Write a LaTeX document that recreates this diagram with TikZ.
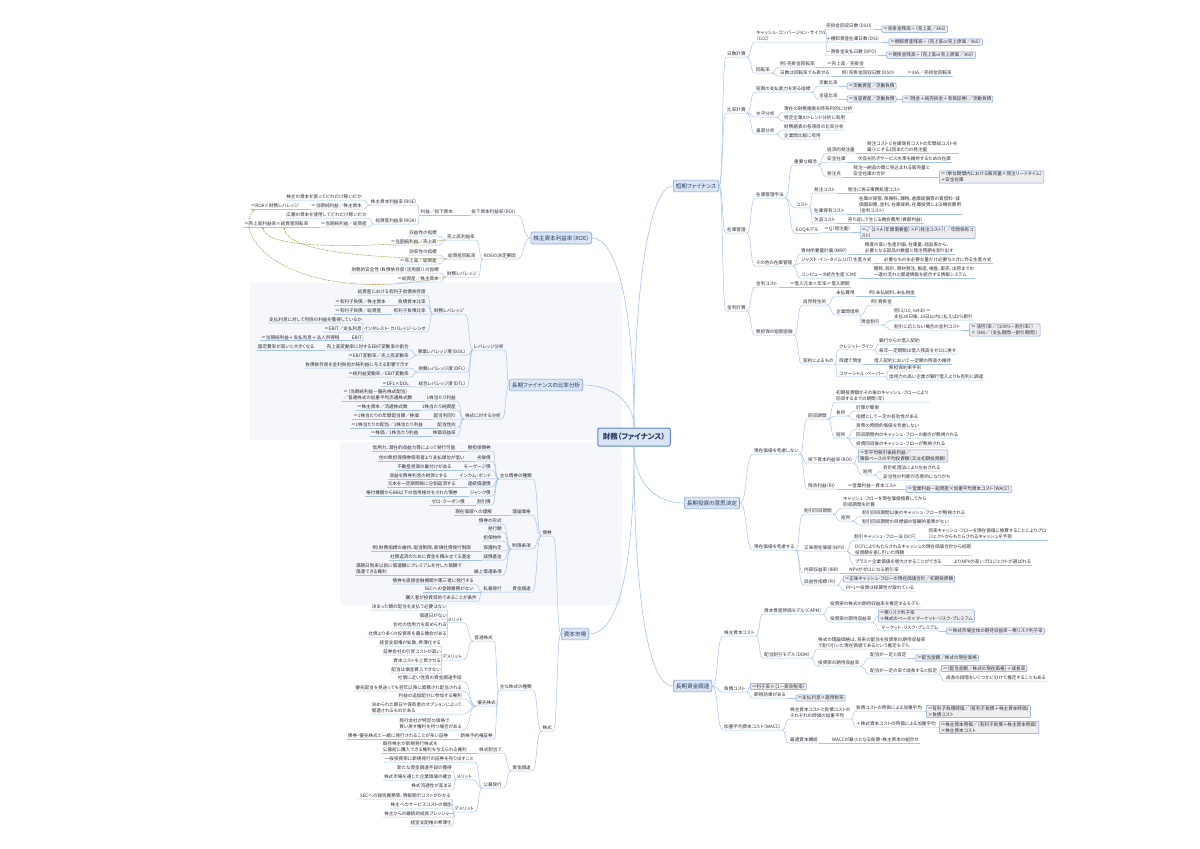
\documentclass[tikz,border=0pt]{standalone}
\usepackage{fontspec}
\setmainfont{Noto Sans CJK JP}[RawFeature=+palt]
\usepackage{tikz}
\usetikzlibrary{arrows.meta, calc}

\definecolor{lnk}{RGB}{165,195,235}
\definecolor{txt}{RGB}{45,45,55}
\definecolor{bxd}{RGB}{120,160,220}
\definecolor{bxf}{RGB}{238,238,241}
\definecolor{tpd}{RGB}{130,165,215}
\definecolor{tpf}{RGB}{218,228,243}
\definecolor{tpt}{RGB}{40,60,100}
\definecolor{rtd}{RGB}{90,135,205}
\definecolor{dsh}{RGB}{170,160,90}
\definecolor{band}{RGB}{245,247,251}

\begin{document}
\begin{tikzpicture}[
        x=1pt, y=-1pt,
        >={Stealth[length=2.5pt, width=2pt]},
        con/.style={draw=lnk, line width=0.5pt,
            to path={let \p1=(\tikztostart), \p2=(\tikztotarget),
                \n1={0.6*(\x2-\x1)}, \n2={-0.6*(\x2-\x1)} in
                .. controls +(\n1,0) and +(\n2,0) .. (\tikztotarget)}},
        mlink/.style={draw=lnk, line width=0.6pt},
        dlink/.style={draw=dsh, line width=0.6pt, dash pattern=on 1.6pt off 1pt, ->},
        lf/.style={font=\fontsize{4.6}{6}\selectfont, text=txt, inner xsep=1pt, inner ysep=0.7pt, align=left},
        rl/.style={lf, anchor=west},
        ll/.style={lf, anchor=east},
        fml/.style={lf, draw=bxd, fill=bxf, rounded corners=1pt, line width=0.5pt, inner xsep=1.5pt, inner ysep=1pt, anchor=west},
        topic/.style={draw=tpd, fill=tpf, rounded corners=1.5pt, line width=0.6pt, text=tpt,
            font=\fontsize{5.6}{7}\selectfont, inner xsep=2.5pt, minimum height=10pt},
        root/.style={draw=rtd, fill=tpf, rounded corners=2pt, line width=1pt, text=tpt,
            font=\fontsize{7.5}{9}\selectfont\bfseries, inner xsep=5pt, minimum height=18pt}
    ]
        \useasboundingbox (0,0) rectangle (1200,849);
        % 背景の帯
        \fill[band] (250,283) rectangle (622,440);
        \fill[band] (340,442) rectangle (622,605);

        %=================== 中心と主トピック ===================
        \node[root] (root) at (634,437) {財務（ファイナンス）};
        \node[topic, anchor=west] (stf) at (673,186) {短期ファイナンス};
        \node[topic, anchor=east] (roe) at (592,238) {株主資本利益率（ROE）};
        \node[topic, anchor=east] (lfr) at (583,385) {長期ファイナンスの比率分析};
        \node[topic, anchor=west] (ltd) at (684,503) {長期投資の意思決定};
        \node[topic, anchor=east] (cpm) at (589,634) {資本市場};
        \node[topic, anchor=west] (ltf) at (673,686) {長期資金調達};
        \draw[mlink] (root.north) .. controls +(0,-130) and +(-25,0) .. (stf.west);
        \draw[mlink] (root.north) .. controls +(0,-120) and +(25,0) .. (roe.east);
        \draw[mlink] (root.north) .. controls +(0,-25) and +(30,0) .. (lfr.east);
        \draw[mlink] (root.south) .. controls +(0,35) and +(-30,0) .. (ltd.west);
        \draw[mlink] (root.south) .. controls +(0,120) and +(30,0) .. (cpm.east);
        \draw[mlink] (root.south) .. controls +(0,150) and +(-25,0) .. (ltf.west);

        %=================== 短期ファイナンス ===================
        \node[rl] (dsc) at (726,54) {日数計算};
        \node[rl] (rcc) at (726,110) {比率計算};
        \node[rl] (inv) at (726,230) {在庫管理};
        \node[rl] (irc) at (726,308) {金利計算};
        \draw[con] (stf.east) to (dsc.south west) -- (dsc.south east);
        \draw[con] (stf.east) to (rcc.south west) -- (rcc.south east);
        \draw[con] (stf.east) to (inv.south west) -- (inv.south east);
        \draw[con] (stf.east) to (irc.south west) -- (irc.south east);
        % 日数計算
        \node[rl] (ccc) at (755,36) {キャッシュ・コンバージョン・サイクル\\（CCC）};
        \node[rl] (trn) at (755,70) {回転率};
        \node[rl] (dso) at (825,26) {売掛金回収日数（DSO）};
        \node[rl] (dsi) at (825,39) {＋棚卸資産在庫日数（DSI）};
        \node[rl] (dpo) at (825,52) {－買掛金支払日数（DPO）};
        \node[fml] (dsof) at ([xshift=8pt]dso.south east) {＝売掛金残高÷（売上高／365）};
        \node[fml] (dsif) at ([xshift=8pt]dsi.south east) {＝棚卸資産残高÷（売上高or売上原価／365）};
        \node[fml] (dpof) at ([xshift=8pt]dpo.south east) {＝買掛金残高÷（売上高or売上原価／365）};
        \node[rl] (art) at (779,64) {例）売掛金回転率};
        \node[rl, anchor=south west] (artf) at ([xshift=10pt]art.south east) {＝売上高／売掛金};
        \node[rl] (dcv) at (779,73) {日数は回転率でも表せる};
        \node[rl, anchor=south west] (dsox) at ([xshift=10pt]dcv.south east) {例）売掛金回収日数（DSO）};
        \node[rl, anchor=south west] (dsoy) at ([xshift=10pt]dsox.south east) {＝365／売掛金回転率};
        \draw[con] (dsc.south east) to (ccc.south west) -- (ccc.south east);
        \draw[con] (dsc.south east) to (trn.south west) -- (trn.south east);
        \draw[con] (ccc.south east) to (dso.south west) -- (dso.south east);
        \draw[con] (ccc.south east) to (dsi.south west) -- (dsi.south east);
        \draw[con] (ccc.south east) to (dpo.south west) -- (dpo.south east);
        \draw[con] (dso.south east) to (dsof.west);
        \draw[con] (dsi.south east) to (dsif.west);
        \draw[con] (dpo.south east) to (dpof.west);
        \draw[con] (trn.south east) to (art.south west) -- (art.south east);
        \draw[con] (art.south east) to (artf.south west) -- (artf.south east);
        \draw[con] (trn.south east) to (dcv.south west) -- (dcv.south east);
        \draw[con] (dcv.south east) to (dsox.south west) -- (dsox.south east);
        \draw[con] (dsox.south east) to (dsoy.south west) -- (dsoy.south east);
        % 比率計算
        \node[rl] (spc) at (755,89) {短期の支払能力を測る指標};
        \node[rl] (hor) at (755,114) {水平分析};
        \node[rl] (ver) at (755,131) {垂直分析};
        \node[rl] (crr) at (818,83) {流動比率};
        \node[rl] (qkr) at (818,96) {当座比率};
        \node[fml] (crrf) at ([xshift=8pt]crr.south east) {＝流動資産／流動負債};
        \node[fml] (qkrf) at ([xshift=8pt]qkr.south east) {＝当座資産／流動負債};
        \node[fml] (qkrg) at ([xshift=6pt]qkrf.east) {＝（現金＋純売掛金＋有価証券）／流動負債};
        \node[rl] (hor1) at (783,109) {現在の財務諸表を時系列的に分析};
        \node[rl] (hor2) at (783,118) {特定企業のトレンド分析に有用};
        \node[rl] (ver1) at (783,127) {財務諸表の各項目の比率分析};
        \node[rl] (ver2) at (783,136) {企業間比較に有用};
        \draw[con] (rcc.south east) to (spc.south west) -- (spc.south east);
        \draw[con] (rcc.south east) to (hor.south west) -- (hor.south east);
        \draw[con] (rcc.south east) to (ver.south west) -- (ver.south east);
        \draw[con] (spc.south east) to (crr.south west) -- (crr.south east);
        \draw[con] (spc.south east) to (qkr.south west) -- (qkr.south east);
        \draw[con] (crr.south east) to (crrf.west);
        \draw[con] (qkr.south east) to (qkrf.west);
        \draw[con] (qkrf.east) to (qkrg.west);
        \draw[con] (hor.south east) to (hor1.south west) -- (hor1.south east);
        \draw[con] (hor.south east) to (hor2.south west) -- (hor2.south east);
        \draw[con] (ver.south east) to (ver1.south west) -- (ver1.south east);
        \draw[con] (ver.south east) to (ver2.south west) -- (ver2.south east);
        % 在庫管理
        \node[rl] (imt) at (755,195) {在庫管理手法};
        \node[rl] (oim) at (755,263) {その他の在庫管理};
        \node[rl] (kcp) at (793,162) {重要な概念};
        \node[rl] (cst) at (795,205) {コスト};
        \node[rl] (eoq) at (795,230) {EOQモデル};
        \node[rl] (eco) at (826,150) {経済的発注量};
        \node[rl] (ssk) at (826,159) {安全在庫};
        \node[rl] (rop) at (826,174) {発注点};
        \node[rl, anchor=south west] (ecot) at ([xshift=10pt]eco.south east) {発注コストと在庫保有コストの年間総コストを\\最小にする1回あたりの発注量};
        \node[rl, anchor=south west] (sskt) at ([xshift=10pt]ssk.south east) {欠品を防ぎサービス水準を維持するための在庫};
        \node[rl, anchor=south west] (ropt) at ([xshift=10pt]rop.south east) {発注～納品の間に見込まれる販売量と\\安全在庫の合計};
        \node[fml] (ropf) at ([xshift=8pt]ropt.south east) {＝（単位期間内における販売量×発注リードタイム）\\＋安全在庫};
        \node[rl] (oc) at (813,190) {発注コスト};
        \node[rl] (hc) at (813,211) {在庫保有コスト};
        \node[rl] (soc) at (813,220) {欠品コスト};
        \node[rl, anchor=south west] (oct) at ([xshift=10pt]oc.south east) {発注に係る事務処理コスト};
        \node[rl, anchor=south west] (hct) at ([xshift=12pt]hc.south east) {在庫の保管、保険料、課税、倉庫設備等の賃借料・減\\価償却費、金利、在庫減耗、在庫投資による機会費用\\（金利コスト）};
        \node[rl, anchor=south west] (soct) at ([xshift=10pt]soc.south east) {売り逃しで生じる機会費用（貢献利益）};
        \node[rl] (eoqq) at (823,229) {＝Q（発注量）};
        \node[fml] (eoqf) at ([xshift=8pt]eoqq.south east) {＝√｛2×A（年間需要量）×P（発注コスト）｝／年間保有コ\\スト｝};
        \node[rl] (mrp) at (800,251) {資材所要量計画（MRP）};
        \node[rl] (jit) at (800,260) {ジャスト・イン・タイム（JIT）生産方式};
        \node[rl] (cim) at (800,275) {コンピュータ統合生産（CIM）};
        \node[rl, anchor=south west] (mrpt) at ([xshift=15pt]mrp.south east) {精度の高い生産計画、在庫量、部品表から、\\必要となる部品の数量と発注時期を割り出す};
        \node[rl, anchor=south west] (jitt) at ([xshift=10pt]jit.south east) {必要なものを必要な量だけ必要なときに作る生産方式};
        \node[rl, anchor=south west] (cimt) at ([xshift=14pt]cim.south east) {開発、設計、資材発注、製造、検査、販売、出荷までの\\一連の流れと関連情報を統合する情報システム};
        \draw[con] (inv.south east) to (imt.south west) -- (imt.south east);
        \draw[con] (inv.south east) to (oim.south west) -- (oim.south east);
        \draw[con] (imt.south east) to (kcp.south west) -- (kcp.south east);
        \draw[con] (imt.south east) to (cst.south west) -- (cst.south east);
        \draw[con] (imt.south east) to (eoq.south west) -- (eoq.south east);
        \draw[con] (kcp.south east) to (eco.south west) -- (eco.south east);
        \draw[con] (kcp.south east) to (ssk.south west) -- (ssk.south east);
        \draw[con] (kcp.south east) to (rop.south west) -- (rop.south east);
        \draw[con] (eco.south east) to (ecot.south west) -- (ecot.south east);
        \draw[con] (ssk.south east) to (sskt.south west) -- (sskt.south east);
        \draw[con] (rop.south east) to (ropt.south west) -- (ropt.south east);
        \draw[con] (ropt.south east) to (ropf.west);
        \draw[con] (cst.south east) to (oc.south west) -- (oc.south east);
        \draw[con] (cst.south east) to (hc.south west) -- (hc.south east);
        \draw[con] (cst.south east) to (soc.south west) -- (soc.south east);
        \draw[con] (oc.south east) to (oct.south west) -- (oct.south east);
        \draw[con] (hc.south east) to (hct.south west) -- (hct.south east);
        \draw[con] (soc.south east) to (soct.south west) -- (soct.south east);
        \draw[con] (eoq.south east) to (eoqq.south west) -- (eoqq.south east);
        \draw[con] (eoqq.south east) to (eoqf.west);
        \draw[con] (oim.south east) to (mrp.south west) -- (mrp.south east);
        \draw[con] (oim.south east) to (jit.south west) -- (jit.south east);
        \draw[con] (oim.south east) to (cim.south west) -- (cim.south east);
        \draw[con] (mrp.south east) to (mrpt.south west) -- (mrpt.south east);
        \draw[con] (jit.south east) to (jitt.south west) -- (jitt.south east);
        \draw[con] (cim.south east) to (cimt.south west) -- (cimt.south east);
        % 金利計算
        \node[rl] (icst) at (755,284) {金利コスト};
        \node[rl, anchor=south west] (icstt) at ([xshift=10pt]icst.south east) {＝借入元本×年率×借入期間};
        \node[rl] (usf) at (755,332) {無担保の短期金融};
        \node[rl] (spn) at (802,302) {自然発生的};
        \node[rl] (ctr) at (802,361) {契約によるもの};
        \node[rl] (acr) at (835,293) {未払費用};
        \node[rl, anchor=south west] (acrt) at ([xshift=12pt]acr.south east) {例）未払給料、未払税金};
        \node[rl] (tcr) at (835,312) {企業間信用};
        \node[rl] (tcr1) at (870,302) {例）買掛金};
        \node[rl] (tcr2) at (860,322) {現金割引};
        \node[rl] (cdt) at (893,314) {例）2/10, net30 ＝\\支払30日後、10日以内に払えば2\%割引};
        \node[rl] (cdc) at (893,327) {割引に応じない場合の金利コスト};
        \node[fml] (cdcf) at ([xshift=8pt]cdc.south east) {＝｛割引率／（100\%－割引率）｝\\×｛360／（支払期間－割引期間）｝};
        \node[rl] (crl) at (838,347) {クレジット・ライン};
        \node[rl] (cmp) at (838,361) {両建て預金};
        \node[rl] (cpp) at (838,374) {コマーシャル・ペーパー};
        \node[rl] (crl1) at (878,341) {銀行からの借入契約};
        \node[rl] (crl2) at (878,351) {毎年一定期間は借入残高をゼロに戻す};
        \node[rl, anchor=south west] (cmpt) at ([xshift=10pt]cmp.south east) {借入契約において一定額の残高の維持};
        \node[rl] (cpp1) at (888,368) {無担保約束手形};
        \node[rl] (cpp2) at (888,377) {信用力の高い企業が銀行借入よりも有利に調達};
        \draw[con] (irc.south east) to (icst.south west) -- (icst.south east);
        \draw[con] (icst.south east) to (icstt.south west) -- (icstt.south east);
        \draw[con] (irc.south east) to (usf.south west) -- (usf.south east);
        \draw[con] (usf.south east) to (spn.south west) -- (spn.south east);
        \draw[con] (usf.south east) to (ctr.south west) -- (ctr.south east);
        \draw[con] (spn.south east) to (acr.south west) -- (acr.south east);
        \draw[con] (acr.south east) to (acrt.south west) -- (acrt.south east);
        \draw[con] (spn.south east) to (tcr.south west) -- (tcr.south east);
        \draw[con] (tcr.south east) to (tcr1.south west) -- (tcr1.south east);
        \draw[con] (tcr.south east) to (tcr2.south west) -- (tcr2.south east);
        \draw[con] (tcr2.south east) to (cdt.south west) -- (cdt.south east);
        \draw[con] (tcr2.south east) to (cdc.south west) -- (cdc.south east);
        \draw[con] (cdc.south east) to (cdcf.west);
        \draw[con] (ctr.south east) to (crl.south west) -- (crl.south east);
        \draw[con] (ctr.south east) to (cmp.south west) -- (cmp.south east);
        \draw[con] (ctr.south east) to (cpp.south west) -- (cpp.south east);
        \draw[con] (crl.south east) to (crl1.south west) -- (crl1.south east);
        \draw[con] (crl.south east) to (crl2.south west) -- (crl2.south east);
        \draw[con] (cmp.south east) to (cmpt.south west) -- (cmpt.south east);
        \draw[con] (cpp.south east) to (cpp1.south west) -- (cpp1.south east);
        \draw[con] (cpp.south east) to (cpp2.south west) -- (cpp2.south east);

        %=================== 長期投資の意思決定 ===================
        \node[rl] (npz) at (753,451) {現在価値を考慮しない};
        \node[rl] (pvc) at (753,547) {現在価値を考慮する};
        \draw[con] (ltd.east) to (npz.south west) -- (npz.south east);
        \draw[con] (ltd.east) to (pvc.south west) -- (pvc.south east);
        % 考慮しない
        \node[rl] (pbp) at (807,416) {回収期間};
        \node[rl] (roi) at (807,460) {投下資本利益率（ROI）};
        \node[rl] (rsi) at (807,486) {残余利益（RI）};
        \node[rl] (pbpt) at (835,396) {初期投資額がその後のキャッシュ・フローにより\\回収するまでの期間（年）};
        \node[rl] (pbpa) at (835,413) {長所};
        \node[rl] (pbpd) at (835,435) {短所};
        \node[rl] (pa1) at (855,408) {計算が簡単};
        \node[rl] (pa2) at (855,417) {指標として一定の有効性がある};
        \node[rl] (pd1) at (855,426) {貨幣の時間的価値を考慮しない};
        \node[rl] (pd2) at (855,435) {回収期間内のキャッシュ・フローの動きが無視される};
        \node[rl] (pd3) at (855,444) {投資回収後のキャッシュ・フローが無視される};
        \node[fml] (roif) at (858,456) {＝年平均税引後純利益／\\簿価ベースの平均投資額（又は初期投資額）};
        \node[rl] (roid) at (862,472) {短所};
        \node[rl] (rd1) at (882,468) {会計処理法により左右される};
        \node[rl] (rd2) at (882,477) {妥当性の判断が恣意的になりがち};
        \node[rl, anchor=south west] (rsit) at ([xshift=10pt]rsi.south east) {＝営業利益－資本コスト};
        \node[fml] (rsif) at ([xshift=8pt]rsit.south east) {＝営業利益－総資産×加重平均資本コスト（WACC）};
        \draw[con] (npz.south east) to (pbp.south west) -- (pbp.south east);
        \draw[con] (npz.south east) to (roi.south west) -- (roi.south east);
        \draw[con] (npz.south east) to (rsi.south west) -- (rsi.south east);
        \draw[con] (pbp.south east) to (pbpt.south west) -- (pbpt.south east);
        \draw[con] (pbp.south east) to (pbpa.south west) -- (pbpa.south east);
        \draw[con] (pbp.south east) to (pbpd.south west) -- (pbpd.south east);
        \draw[con] (pbpa.south east) to (pa1.south west) -- (pa1.south east);
        \draw[con] (pbpa.south east) to (pa2.south west) -- (pa2.south east);
        \draw[con] (pbpd.south east) to (pd1.south west) -- (pd1.south east);
        \draw[con] (pbpd.south east) to (pd2.south west) -- (pd2.south east);
        \draw[con] (pbpd.south east) to (pd3.south west) -- (pd3.south east);
        \draw[con] (roi.south east) to (roif.west);
        \draw[con] (roi.south east) to (roid.south west) -- (roid.south east);
        \draw[con] (roid.south east) to (rd1.south west) -- (rd1.south east);
        \draw[con] (roid.south east) to (rd2.south west) -- (rd2.south east);
        \draw[con] (rsi.south east) to (rsit.south west) -- (rsit.south east);
        \draw[con] (rsit.south east) to (rsif.west);
        % 考慮する
        \node[rl] (dpb) at (803,511) {割引回収期間};
        \node[rl] (npv) at (803,548) {正味現在価値（NPV）};
        \node[rl] (irr) at (803,570) {内部収益率（IRR）};
        \node[rl] (pin) at (803,582) {収益性指標（PI）};
        \node[rl] (dpbt) at (842,502) {キャッシュ・フローを現在価値換算してから\\回収期間を計算};
        \node[rl] (dpbd) at (840,518) {短所};
        \node[rl] (dd1) at (861,513) {割引回収期間以後のキャッシュ・フローが無視される};
        \node[rl] (dd2) at (861,522) {割引回収期間の目標値の客観的基準がない};
        \node[rl] (dcf) at (853,537) {割引キャッシュ・フロー法（DCF）};
        \node[rl, anchor=south west] (dcft) at ([xshift=10pt]dcf.south east) {将来キャッシュ・フローを現在価値に換算することによりプロ\\ジェクトからもたらされるキャッシュを予測};
        \node[rl] (npvt) at (854,549.5) {DCFによりもたらされるキャッシュの現在価値合計から初期\\投資額を差し引いた残額};
        \node[rl] (npvp) at (854,562) {プラス＝企業価値を増大させることができる};
        \node[rl, anchor=south west] (npvq) at ([xshift=10pt]npvp.south east) {よりNPVの高いプロジェクトが選ばれる};
        \node[rl, anchor=south west] (irrt) at ([xshift=8pt]irr.south east) {NPVがゼロになる割引率};
        \node[fml] (pinf) at (843,579) {＝正味キャッシュ・フローの現在価値合計／初期投資額};
        \node[rl] (pint) at (845,588) {PI>1＝投資は採算性が取れている};
        \draw[con] (pvc.south east) to (dpb.south west) -- (dpb.south east);
        \draw[con] (pvc.south east) to (npv.south west) -- (npv.south east);
        \draw[con] (pvc.south east) to (irr.south west) -- (irr.south east);
        \draw[con] (pvc.south east) to (pin.south west) -- (pin.south east);
        \draw[con] (dpb.south east) to (dpbt.south west) -- (dpbt.south east);
        \draw[con] (dpb.south east) to (dpbd.south west) -- (dpbd.south east);
        \draw[con] (dpbd.south east) to (dd1.south west) -- (dd1.south east);
        \draw[con] (dpbd.south east) to (dd2.south west) -- (dd2.south east);
        \draw[con] (npv.south east) to (dcf.south west) -- (dcf.south east);
        \draw[con] (dcf.south east) to (dcft.south west) -- (dcft.south east);
        \draw[con] (npv.south east) to (npvt.south west) -- (npvt.south east);
        \draw[con] (npv.south east) to (npvp.south west) -- (npvp.south east);
        \draw[con] (npvp.south east) to (npvq.south west) -- (npvq.south east);
        \draw[con] (irr.south east) to (irrt.south west) -- (irrt.south east);
        \draw[con] (pin.south east) to (pinf.west);
        \draw[con] (pin.south east) to (pint.south west) -- (pint.south east);

        %=================== 長期資金調達 ===================
        \node[rl] (sec) at (723,633) {株主資本コスト};
        \node[rl] (dbc) at (723,689) {負債コスト};
        \node[rl] (wac) at (723,727) {加重平均資本コスト（WACC）};
        \draw[con] (ltf.east) to (sec.south west) -- (sec.south east);
        \draw[con] (ltf.east) to (dbc.south west) -- (dbc.south east);
        \draw[con] (ltf.east) to (wac.south west) -- (wac.south east);
        % 株主資本コスト
        \node[rl] (capm) at (763,611) {資本資産評価モデル（CAPM）};
        \node[rl] (ddm) at (763,655) {配当割引モデル（DDM）};
        \node[rl] (cap1) at (829,604) {投資家の株式の期待収益率を推定するモデル};
        \node[rl] (cap2) at (829,619) {投資家の期待収益率};
        \node[fml] (capf) at (878,616) {＝無リスク利子率\\＋株式のベータ×マーケット・リスク・プレミアム};
        \node[rl] (mrk) at (880,628) {マーケット・リスク・プレミアム};
        \node[fml] (mrkf) at ([xshift=7pt]mrk.south east) {＝株式市場全体の期待収益率－無リスク利子率};
        \node[rl] (ddm1) at (817,643) {株式の理論価格は、将来の配当を投資家の期待収益率\\で割り引いた現在価値であるという推定モデル};
        \node[rl] (ddm2) at (817,663) {投資家の期待収益率};
        \node[rl] (dg0) at (869,655) {配当が一定と仮定};
        \node[fml] (dg0f) at ([xshift=8pt]dg0.south east) {＝配当金額／株式の現在価格};
        \node[rl] (dg1) at (869,671) {配当が一定の率で成長すると仮定};
        \node[fml] (dg1f) at (941,668.5) {＝（配当金額／株式の現在価格）＋成長率};
        \node[rl] (dg1t) at (945,678) {成長の段階をいくつかに分けて推定することもある};
        \draw[con] (sec.south east) to (capm.south west) -- (capm.south east);
        \draw[con] (sec.south east) to (ddm.south west) -- (ddm.south east);
        \draw[con] (capm.south east) to (cap1.south west) -- (cap1.south east);
        \draw[con] (capm.south east) to (cap2.south west) -- (cap2.south east);
        \draw[con] (cap2.south east) to (capf.west);
        \draw[con] (cap2.south east) to (mrk.south west) -- (mrk.south east);
        \draw[con] (mrk.south east) to (mrkf.west);
        \draw[con] (ddm.south east) to (ddm1.south west) -- (ddm1.south east);
        \draw[con] (ddm.south east) to (ddm2.south west) -- (ddm2.south east);
        \draw[con] (ddm2.south east) to (dg0.south west) -- (dg0.south east);
        \draw[con] (dg0.south east) to (dg0f.west);
        \draw[con] (ddm2.south east) to (dg1.south west) -- (dg1.south east);
        \draw[con] (dg1.south east) to (dg1f.west);
        \draw[con] (dg1.south east) to (dg1t.south west) -- (dg1t.south east);
        % 負債コスト
        \node[fml] (dbcf) at (750,686.5) {＝利子率×（1－実効税率）};
        \node[rl] (dbct) at (753,695) {節税効果がある};
        \node[fml] (dbcg) at ([xshift=9pt]dbct.south east) {＝支払利息×適用税率};
        \draw[con] (dbc.south east) to (dbcf.west);
        \draw[con] (dbc.south east) to (dbct.south west) -- (dbct.south east);
        \draw[con] (dbct.south east) to (dbcg.west);
        % WACC
        \node[rl] (wac1) at (789,713) {株主資本コストと負債コストの\\それぞれの時価の加重平均};
        \node[rl] (wac2) at (789,740) {最適資本構成};
        \node[rl] (wd) at (855,708) {負債コストの時価による加重平均};
        \node[fml] (wdf) at (926,711.5) {＝有利子負債時価／（有利子負債＋株主資本時価）\\×負債コスト};
        \node[rl] (we) at (855,724) {＋株式資本コストの時価による加重平均};
        \node[fml] (wef) at (939,727.5) {＝株主資本時価／（有利子負債＋株主資本時価）\\×株主資本コスト};
        \node[rl, anchor=south west] (wac2t) at ([xshift=12pt]wac2.south east) {WACCが最小となる負債・株主資本の組合せ};
        \draw[con] (wac.south east) to (wac1.south west) -- (wac1.south east);
        \draw[con] (wac.south east) to (wac2.south west) -- (wac2.south east);
        \draw[con] (wac1.south east) to (wd.south west) -- (wd.south east);
        \draw[con] (wd.south east) to (wdf.west);
        \draw[con] (wac1.south east) to (we.south west) -- (we.south east);
        \draw[con] (we.south east) to (wef.west);
        \draw[con] (wac2.south east) to (wac2t.south west) -- (wac2t.south east);

        %=================== 株主資本利益率（ROE） ===================
        \node[ll] (roiL) at (517,212) {投下資本利益率（ROI）};
        \node[ll] (det) at (517,256) {ROEの決定要因};
        \node[ll, anchor=south east] (pic) at ([xshift=-16pt]roiL.south west) {利益／投下資本};
        \node[ll] (roes) at (418,202) {株主資本利益率（ROE）};
        \node[ll] (roas) at (418,221) {総資産利益率（ROA）};
        \node[ll] (roe1) at (363,197) {株主の資本を使ってどれだけ稼いだか};
        \node[ll] (roe2) at (363,206) {＝当期純利益／株主資本};
        \node[ll, anchor=south east] (roe3) at ([xshift=-10pt]roe2.south west) {＝ROA×財務レバレッジ};
        \node[ll] (roa1) at (368,215) {広義の資本を使用してどれだけ稼いだか};
        \node[ll] (roa2) at (368,224) {＝当期純利益／総資産};
        \node[ll, anchor=south east] (roa3) at ([xshift=-10pt]roa2.south west) {＝売上高利益率×総資産回転率};
        \node[ll] (prf) at (476,237) {売上高利益率};
        \node[ll] (tat) at (477,256) {総資産回転率};
        \node[ll] (fnl) at (478,274) {財務レバレッジ};
        \node[ll] (prf1) at (438,233) {収益性の指標};
        \node[ll] (prf2) at (438,242) {＝当期純利益／売上高};
        \node[ll] (tat1) at (438,252) {効率性の指標};
        \node[ll] (tat2) at (438,261) {＝売上高／総資産};
        \node[ll] (fnl1) at (440,270) {財務的安全性（負債依存度（活用度））の指標};
        \node[ll] (fnl2) at (440,279) {＝総資産／株主資本};
        \draw[con] (roe.west) to (roiL.south east) -- (roiL.south west);
        \draw[con] (roe.west) to (det.south east) -- (det.south west);
        \draw[con] (roiL.south west) to (pic.south east) -- (pic.south west);
        \draw[con] (pic.south west) to (roes.south east) -- (roes.south west);
        \draw[con] (pic.south west) to (roas.south east) -- (roas.south west);
        \draw[con] (roes.south west) to (roe1.south east) -- (roe1.south west);
        \draw[con] (roes.south west) to (roe2.south east) -- (roe2.south west);
        \draw[con] (roe2.south west) to (roe3.south east) -- (roe3.south west);
        \draw[con] (roas.south west) to (roa1.south east) -- (roa1.south west);
        \draw[con] (roas.south west) to (roa2.south east) -- (roa2.south west);
        \draw[con] (roa2.south west) to (roa3.south east) -- (roa3.south west);
        \draw[con] (det.south west) to (prf.south east) -- (prf.south west);
        \draw[con] (det.south west) to (tat.south east) -- (tat.south west);
        \draw[con] (det.south west) to (fnl.south east) -- (fnl.south west);
        \draw[con] (prf.south west) to (prf1.south east) -- (prf1.south west);
        \draw[con] (prf.south west) to (prf2.south east) -- (prf2.south west);
        \draw[con] (tat.south west) to (tat1.south east) -- (tat1.south west);
        \draw[con] (tat.south west) to (tat2.south east) -- (tat2.south west);
        \draw[con] (fnl.south west) to (fnl1.south east) -- (fnl1.south west);
        \draw[con] (fnl.south west) to (fnl2.south east) -- (fnl2.south west);
        % 決定要因と式の対応
        \draw[dlink] (prf.south west) .. controls +(-130,12) and +(2,16) .. ($(roa3.south west)!0.3!(roa3.south east)$);
        \draw[dlink] (tat.south west) .. controls +(-110,-2) and +(2,20) .. ($(roa3.south west)!0.62!(roa3.south east)$);
        \draw[dlink] (fnl.south west) .. controls +(-150,30) and +(-25,30) .. ($(roe3.south west)!0.1!(roe3.south east)$);

        %=================== 長期ファイナンスの比率分析 ===================
        \node[ll] (lev) at (505,347) {レバレッジ分析};
        \node[ll] (stk) at (502,416) {株式に対する分析};
        \draw[con] (lfr.west) to (lev.south east) -- (lev.south west);
        \draw[con] (lfr.west) to (stk.south east) -- (stk.south west);
        % レバレッジ分析
        \node[ll] (flv) at (465,311) {財務レバレッジ};
        \node[ll] (dol) at (467,352) {事業レバレッジ度（DOL）};
        \node[ll] (dfl) at (467,369) {財務レバレッジ度（DFL）};
        \node[ll] (dtl) at (467,384) {総合レバレッジ度（DTL）};
        \node[ll] (flv1) at (427,292) {総資産における有利子負債依存度};
        \node[ll] (der) at (427,302) {負債資本比率};
        \node[ll] (idr) at (427,311) {有利子負債比率};
        \node[ll] (icr) at (427,329) {インタレスト・カバレッジ・レシオ};
        \node[ll, anchor=south east] (der1) at ([xshift=-10pt]der.south west) {＝有利子負債／株主資本};
        \node[ll, anchor=south east] (idr1) at ([xshift=-10pt]idr.south west) {＝有利子負債／総資産};
        \node[ll] (icr1) at (363,320) {支払利息に対して何倍の利益を獲得しているか};
        \node[ll] (icr2) at (363,329) {＝EBIT／支払利息};
        \node[ll] (ebit) at (363,338) {EBIT};
        \node[ll, anchor=south east] (ebit1) at ([xshift=-10pt]ebit.south west) {＝当期純利益＋支払利息＋法人所得税};
        \node[ll] (dol1) at (410,347) {売上高変動率に対するEBIT変動率の割合};
        \node[ll, anchor=south east] (dol3) at ([xshift=-10pt]dol1.south west) {固定費率が高いと大きくなる};
        \node[ll] (dol2) at (410,356) {＝EBIT変動率／売上高変動率};
        \node[ll] (dfl1) at (410,365) {負債依存度を金利負担が純利益に与える影響で示す};
        \node[ll] (dfl2) at (410,374) {＝純利益変動率／EBIT変動率};
        \node[ll] (dtl1) at (410,384) {＝DFL×DOL};
        \draw[con] (lev.south west) to (flv.south east) -- (flv.south west);
        \draw[con] (lev.south west) to (dol.south east) -- (dol.south west);
        \draw[con] (lev.south west) to (dfl.south east) -- (dfl.south west);
        \draw[con] (lev.south west) to (dtl.south east) -- (dtl.south west);
        \draw[con] (flv.south west) to (flv1.south east) -- (flv1.south west);
        \draw[con] (flv.south west) to (der.south east) -- (der.south west);
        \draw[con] (flv.south west) to (idr.south east) -- (idr.south west);
        \draw[con] (flv.south west) to (icr.south east) -- (icr.south west);
        \draw[con] (der.south west) to (der1.south east) -- (der1.south west);
        \draw[con] (idr.south west) to (idr1.south east) -- (idr1.south west);
        \draw[con] (icr.south west) to (icr1.south east) -- (icr1.south west);
        \draw[con] (icr.south west) to (icr2.south east) -- (icr2.south west);
        \draw[con] (icr.south west) to (ebit.south east) -- (ebit.south west);
        \draw[con] (ebit.south west) to (ebit1.south east) -- (ebit1.south west);
        \draw[con] (dol.south west) to (dol1.south east) -- (dol1.south west);
        \draw[con] (dol1.south west) to (dol3.south east) -- (dol3.south west);
        \draw[con] (dol.south west) to (dol2.south east) -- (dol2.south west);
        \draw[con] (dfl.south west) to (dfl1.south east) -- (dfl1.south west);
        \draw[con] (dfl.south west) to (dfl2.south east) -- (dfl2.south west);
        \draw[con] (dtl.south west) to (dtl1.south east) -- (dtl1.south west);
        % 株式に対する分析
        \node[ll] (eps) at (457,398) {1株当たり利益};
        \node[ll] (bps) at (457,407) {1株当たり純資産};
        \node[ll] (dyd) at (457,416) {配当利回り};
        \node[ll] (dpr) at (457,425) {配当性向};
        \node[ll] (per) at (457,433) {株価収益率};
        \node[ll, anchor=south east] (eps1) at ([xshift=-12pt]eps.south west) {＝（当期純利益－優先株式配当）\\／普通株式の加重平均流通株式数};
        \node[ll, anchor=south east] (bps1) at ([xshift=-12pt]bps.south west) {＝株主資本／流通株式数};
        \node[ll, anchor=south east] (dyd1) at ([xshift=-12pt]dyd.south west) {＝1株当たりの年間配当額／株価};
        \node[ll, anchor=south east] (dpr1) at ([xshift=-12pt]dpr.south west) {＝1株当たりの配当／1株当たり利益};
        \node[ll, anchor=south east] (per1) at ([xshift=-12pt]per.south west) {＝株価／1株当たり利益};
        \draw[con] (stk.south west) to (eps.south east) -- (eps.south west);
        \draw[con] (stk.south west) to (bps.south east) -- (bps.south west);
        \draw[con] (stk.south west) to (dyd.south east) -- (dyd.south west);
        \draw[con] (stk.south west) to (dpr.south east) -- (dpr.south west);
        \draw[con] (stk.south west) to (per.south east) -- (per.south west);
        \draw[con] (eps.south west) to (eps1.south east) -- (eps1.south west);
        \draw[con] (bps.south west) to (bps1.south east) -- (bps1.south west);
        \draw[con] (dyd.south west) to (dyd1.south east) -- (dyd1.south west);
        \draw[con] (dpr.south west) to (dpr1.south east) -- (dpr1.south west);
        \draw[con] (per.south west) to (per1.south east) -- (per1.south west);

        %=================== 資本市場 ===================
        \node[ll] (bnd) at (553,533) {債券};
        \node[ll] (eqt) at (553,728) {株式};
        \draw[con] (cpm.west) to (bnd.south east) -- (bnd.south west);
        \draw[con] (cpm.west) to (eqt.south east) -- (eqt.south west);
        % 債券
        \node[ll] (bkd) at (533,476) {主な債券の種類};
        \node[ll] (bth) at (532,512) {理論価格};
        \node[ll] (bcv) at (532,546) {制限条項};
        \node[ll] (bfd) at (532,589) {資金調達};
        \node[ll] (bd1) at (492,448) {無担保債券};
        \node[ll] (bd2) at (492,458) {劣後債};
        \node[ll] (bd3) at (492,467) {モーゲージ債};
        \node[ll] (bd4) at (492,476) {インカム・ボンド};
        \node[ll] (bd5) at (492,484) {連続償還債};
        \node[ll] (bd6) at (492,493) {ジャンク債};
        \node[ll] (bd7) at (492,502) {割引債};
        \node[ll, anchor=south east] (bd1t) at ([xshift=-10pt]bd1.south west) {信用力、潜在的収益力等によって発行可能};
        \node[ll, anchor=south east] (bd2t) at ([xshift=-10pt]bd2.south west) {他の無担保債券保有者より支払順位が低い};
        \node[ll, anchor=south east] (bd3t) at ([xshift=-10pt]bd3.south west) {不動産担保の裏付けがある};
        \node[ll, anchor=south east] (bd4t) at ([xshift=-10pt]bd4.south west) {収益を債券利息の財源とする};
        \node[ll, anchor=south east] (bd5t) at ([xshift=-10pt]bd5.south west) {元本を一定期間毎に分割返済する};
        \node[ll, anchor=south east] (bd6t) at ([xshift=-10pt]bd6.south west) {格付機関からBB以下の信用格付をされた債券};
        \node[ll, anchor=south east] (bd7t) at ([xshift=-10pt]bd7.south west) {ゼロ・クーポン債};
        \node[ll, anchor=south east] (bth1) at ([xshift=-18pt]bth.south west) {現在価値への理解};
        \node[ll] (bc1) at (503,521) {債券の形式};
        \node[ll] (bc2) at (503,529) {発行額};
        \node[ll] (bc3) at (503,538) {担保物件};
        \node[ll] (bc4) at (503,548) {保護約定};
        \node[ll] (bc5) at (503,557) {減債基金};
        \node[ll] (bc6) at (503,572) {繰上償還条項};
        \node[ll, anchor=south east] (bc4t) at ([xshift=-10pt]bc4.south west) {例）財務指標の維持、配当制限、新規社債発行制限};
        \node[ll, anchor=south east] (bc5t) at ([xshift=-10pt]bc5.south west) {社債返済のために資金を積み立てる基金};
        \node[ll, anchor=south east] (bc6t) at ([xshift=-10pt]bc6.south west) {満期日到来以前に償還額にプレミアムを付した価額で\\償還できる権利};
        \node[ll] (pp) at (503,589) {私募発行};
        \node[ll] (pp1) at (475,581) {債券を直接金融機関や第三者に発行する};
        \node[ll] (pp2) at (475,589) {SECへの登録義務がない};
        \node[ll] (pp3) at (478,598) {購入者が投資目的であることが条件};
        \draw[con] (bnd.south west) to (bkd.south east) -- (bkd.south west);
        \draw[con] (bnd.south west) to (bth.south east) -- (bth.south west);
        \draw[con] (bnd.south west) to (bcv.south east) -- (bcv.south west);
        \draw[con] (bnd.south west) to (bfd.south east) -- (bfd.south west);
        \draw[con] (bkd.south west) to (bd1.south east) -- (bd1.south west);
        \draw[con] (bkd.south west) to (bd2.south east) -- (bd2.south west);
        \draw[con] (bkd.south west) to (bd3.south east) -- (bd3.south west);
        \draw[con] (bkd.south west) to (bd4.south east) -- (bd4.south west);
        \draw[con] (bkd.south west) to (bd5.south east) -- (bd5.south west);
        \draw[con] (bkd.south west) to (bd6.south east) -- (bd6.south west);
        \draw[con] (bkd.south west) to (bd7.south east) -- (bd7.south west);
        \draw[con] (bd1.south west) to (bd1t.south east) -- (bd1t.south west);
        \draw[con] (bd2.south west) to (bd2t.south east) -- (bd2t.south west);
        \draw[con] (bd3.south west) to (bd3t.south east) -- (bd3t.south west);
        \draw[con] (bd4.south west) to (bd4t.south east) -- (bd4t.south west);
        \draw[con] (bd5.south west) to (bd5t.south east) -- (bd5t.south west);
        \draw[con] (bd6.south west) to (bd6t.south east) -- (bd6t.south west);
        \draw[con] (bd7.south west) to (bd7t.south east) -- (bd7t.south west);
        \draw[con] (bth.south west) to (bth1.south east) -- (bth1.south west);
        \draw[con] (bcv.south west) to (bc1.south east) -- (bc1.south west);
        \draw[con] (bcv.south west) to (bc2.south east) -- (bc2.south west);
        \draw[con] (bcv.south west) to (bc3.south east) -- (bc3.south west);
        \draw[con] (bcv.south west) to (bc4.south east) -- (bc4.south west);
        \draw[con] (bcv.south west) to (bc5.south east) -- (bc5.south west);
        \draw[con] (bcv.south west) to (bc6.south east) -- (bc6.south west);
        \draw[con] (bc4.south west) to (bc4t.south east) -- (bc4t.south west);
        \draw[con] (bc5.south west) to (bc5t.south east) -- (bc5t.south west);
        \draw[con] (bc6.south west) to (bc6t.south east) -- (bc6t.south west);
        \draw[con] (bfd.south west) to (pp.south east) -- (pp.south west);
        \draw[con] (pp.south west) to (pp1.south east) -- (pp1.south west);
        \draw[con] (pp.south west) to (pp2.south east) -- (pp2.south west);
        \draw[con] (pp.south west) to (pp3.south east) -- (pp3.south west);
        % 株式
        \node[ll] (ekd) at (533,687) {主な株式の種類};
        \node[ll] (efd) at (532,768) {資金調達};
        \node[ll] (cs) at (494,638) {普通株式};
        \node[ll] (ps) at (497,703) {優先株式};
        \node[ll] (wr) at (494,736) {新株予約権証券};
        \node[ll] (csm) at (464,620) {メリット};
        \node[ll] (csd) at (463,657) {デメリット};
        \node[ll] (csm1) at (448,607) {決まった額の配当を支払う必要はない};
        \node[ll] (csm2) at (448,616) {償還日がない};
        \node[ll] (csm3) at (448,625) {会社の信用力を高められる};
        \node[ll] (csm4) at (448,634) {社債より多くの投資家を募る機会がある};
        \node[ll] (csd1) at (442,643) {経営支配権が拡散、希薄化する};
        \node[ll] (csd2) at (442,652) {証券会社の引受コストが高い};
        \node[ll] (csd3) at (442,661) {資本コストを上昇させる};
        \node[ll] (csd4) at (442,670) {配当は損金算入できない};
        \node[ll] (ps1) at (463,678) {社債に近い性質の資金調達手段};
        \node[ll] (ps2) at (463,688) {優先配当を見送っても翌年以降に累積され配当される};
        \node[ll] (ps3) at (463,696) {利益の追加配分に参加する権利};
        \node[ll] (ps4) at (463,708) {決められた期日や保有者のオプションによって\\償還されるものがある};
        \node[ll] (ps5) at (463,724) {発行会社が特定の価格で\\買い戻す権利を持つ場合がある};
        \node[ll, anchor=south east] (wr1) at ([xshift=-10pt]wr.south west) {債券・優先株式と一緒に発行されることが多い証券};
        \node[ll] (ri2) at (503,750) {株式割当て};
        \node[ll, anchor=south east] (ri2t) at ([xshift=-10pt]ri2.south west) {既存株主が新規発行株式を\\公募前に購入できる権利を与えられる権利};
        \node[ll] (po) at (503,785) {公募発行};
        \node[ll] (po1) at (475,759) {一般投資家に新規発行の証券を売り出すこと};
        \node[ll] (pom) at (473,777) {メリット};
        \node[ll] (pod) at (475,809) {デメリット};
        \node[ll] (pom1) at (453,768) {新たな資金調達手段の獲得};
        \node[ll] (pom2) at (453,777) {株式市場を通じた企業価値の確立};
        \node[ll] (pom3) at (453,786) {株式流通性が高まる};
        \node[ll] (pod1) at (452,796) {SECへの報告義務等、情報開示コストがかかる};
        \node[ll] (pod2) at (453,805) {株主へのサービスコストの増加};
        \node[ll] (pod3) at (455,814) {株主からの継続的成長プレッシャー};
        \node[ll] (pod4) at (453,823) {経営支配権の希薄化};
        \draw[con] (eqt.south west) to (ekd.south east) -- (ekd.south west);
        \draw[con] (eqt.south west) to (efd.south east) -- (efd.south west);
        \draw[con] (ekd.south west) to (cs.south east) -- (cs.south west);
        \draw[con] (ekd.south west) to (ps.south east) -- (ps.south west);
        \draw[con] (ekd.south west) to (wr.south east) -- (wr.south west);
        \draw[con] (cs.south west) to (csm.south east) -- (csm.south west);
        \draw[con] (cs.south west) to (csd.south east) -- (csd.south west);
        \draw[con] (csm.south west) to (csm1.south east) -- (csm1.south west);
        \draw[con] (csm.south west) to (csm2.south east) -- (csm2.south west);
        \draw[con] (csm.south west) to (csm3.south east) -- (csm3.south west);
        \draw[con] (csm.south west) to (csm4.south east) -- (csm4.south west);
        \draw[con] (csd.south west) to (csd1.south east) -- (csd1.south west);
        \draw[con] (csd.south west) to (csd2.south east) -- (csd2.south west);
        \draw[con] (csd.south west) to (csd3.south east) -- (csd3.south west);
        \draw[con] (csd.south west) to (csd4.south east) -- (csd4.south west);
        \draw[con] (ps.south west) to (ps1.south east) -- (ps1.south west);
        \draw[con] (ps.south west) to (ps2.south east) -- (ps2.south west);
        \draw[con] (ps.south west) to (ps3.south east) -- (ps3.south west);
        \draw[con] (ps.south west) to (ps4.south east) -- (ps4.south west);
        \draw[con] (ps.south west) to (ps5.south east) -- (ps5.south west);
        \draw[con] (wr.south west) to (wr1.south east) -- (wr1.south west);
        \draw[con] (efd.south west) to (ri2.south east) -- (ri2.south west);
        \draw[con] (ri2.south west) to (ri2t.south east) -- (ri2t.south west);
        \draw[con] (efd.south west) to (po.south east) -- (po.south west);
        \draw[con] (po.south west) to (po1.south east) -- (po1.south west);
        \draw[con] (po.south west) to (pom.south east) -- (pom.south west);
        \draw[con] (po.south west) to (pod.south east) -- (pod.south west);
        \draw[con] (pom.south west) to (pom1.south east) -- (pom1.south west);
        \draw[con] (pom.south west) to (pom2.south east) -- (pom2.south west);
        \draw[con] (pom.south west) to (pom3.south east) -- (pom3.south west);
        \draw[con] (pod.south west) to (pod1.south east) -- (pod1.south west);
        \draw[con] (pod.south west) to (pod2.south east) -- (pod2.south west);
        \draw[con] (pod.south west) to (pod3.south east) -- (pod3.south west);
        \draw[con] (pod.south west) to (pod4.south east) -- (pod4.south west);
    \end{tikzpicture}
\end{document}
